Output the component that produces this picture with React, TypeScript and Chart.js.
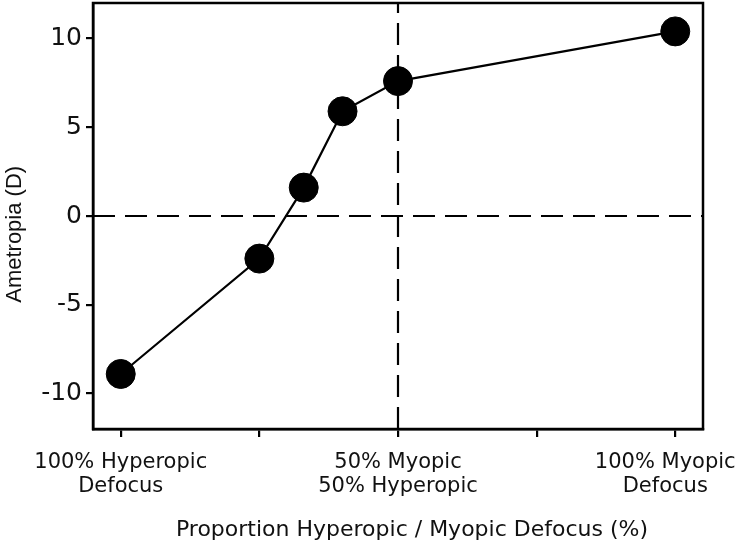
import React, { useEffect, useRef } from "react";
import { Chart, registerables } from "chart.js";

Chart.register(...registerables);

// ---- data ----
const proportionMyopic = [0, 25, 33, 40, 50, 100];
const ametropia = [-8.9, -2.4, 1.6, 5.9, 7.6, 10.4];

const xTickValues = [0, 25, 50, 75, 100];
const xTickLabels: (string | string[])[] = [
  ["100% Hyperopic", "Defocus"],
  "",
  ["50% Myopic", "50% Hyperopic"],
  "",
  ["100% Myopic   ", "Defocus   "],
];
const yTickValues = [-10, -5, 0, 5, 10];
const xRange = [-5, 105];
const yRange = [-12, 12];
const zeroLevel = 0;
const halfSplit = 50;

const xTitle = "    Proportion Hyperopic / Myopic Defocus (%)";
const yTitle = "Ametropia (D)      ";

const framePlugin = {
  id: "frame",
  afterDraw(chart: any) {
    const { ctx, chartArea } = chart;
    ctx.save();
    ctx.strokeStyle = "#000";
    ctx.lineWidth = 2.5;
    ctx.strokeRect(
      chartArea.left,
      chartArea.top,
      chartArea.right - chartArea.left,
      chartArea.bottom - chartArea.top
    );
    ctx.restore();
  },
};

export default function App() {
  const canvasRef = useRef<HTMLCanvasElement | null>(null);

  useEffect(() => {
    document.body.style.margin = "0";
    const canvas = canvasRef.current;
    if (!canvas) return;

    const mainPoints = proportionMyopic.map((x, i) => ({ x, y: ametropia[i] }));
    const zeroLine = [
      { x: xRange[0], y: zeroLevel },
      { x: xRange[1], y: zeroLevel },
    ];
    const splitLine = [
      { x: halfSplit, y: yRange[0] },
      { x: halfSplit, y: yRange[1] },
    ];

    const chart = new Chart(canvas, {
      type: "line",
      data: {
        datasets: [
          {
            data: mainPoints,
            borderColor: "#000",
            backgroundColor: "#000",
            borderWidth: 2.2,
            pointRadius: 14.5,
            pointBorderWidth: 1,
            pointBackgroundColor: "#000",
            pointBorderColor: "#000",
            tension: 0,
          },
          {
            data: zeroLine,
            borderColor: "#000",
            borderWidth: 2.2,
            borderDash: [22, 10],
            pointRadius: 0,
          },
          {
            data: splitLine,
            borderColor: "#000",
            borderWidth: 2.2,
            borderDash: [22, 10],
            pointRadius: 0,
          },
        ],
      },
      options: {
        responsive: false,
        animation: false,
        layout: { autoPadding: false, padding: { top: 3, right: 36, left: 0, bottom: 0 } },
        plugins: {
          legend: { display: false },
          tooltip: { enabled: false },
        },
        scales: {
          x: {
            type: "linear",
            min: xRange[0],
            max: xRange[1],
            afterBuildTicks(scale: any) {
              scale.ticks = xTickValues.map((v) => ({ value: v }));
            },
            afterFit(scale: any) {
              scale.height = 120;
              scale.paddingLeft = 0;
              scale.paddingRight = 0;
            },
            grid: {
              drawOnChartArea: false,
              drawTicks: true,
              tickLength: 8,
              color: "#000",
              lineWidth: 2.2,
            },
            border: { display: true, color: "#000", width: 2.5 },
            ticks: {
              color: "#111",
              font: { family: "DejaVu Sans", size: 21, lineHeight: 24 / 21 },
              padding: 14,
              maxRotation: 0,
              autoSkip: false,
              callback: (value: any) => {
                const i = xTickValues.indexOf(Number(value));
                return i >= 0 ? xTickLabels[i] : "";
              },
            },
            title: {
              display: true,
              text: xTitle,
              color: "#111",
              font: { family: "DejaVu Sans", size: 22 },
              padding: { top: 0, bottom: 6 },
            },
          },
          y: {
            type: "linear",
            min: yRange[0],
            max: yRange[1],
            afterBuildTicks(scale: any) {
              scale.ticks = yTickValues.map((v) => ({ value: v }));
            },
            afterFit(scale: any) {
              scale.width = 93;
              scale.paddingTop = 0;
              scale.paddingBottom = 0;
            },
            grid: {
              drawOnChartArea: false,
              drawTicks: true,
              tickLength: 7,
              color: "#000",
              lineWidth: 2.2,
            },
            border: { display: true, color: "#000", width: 2.5 },
            ticks: {
              color: "#111",
              font: { family: "DejaVu Sans", size: 25 },
              padding: 4,
              callback: (value: any) => String(value),
            },
            title: {
              display: true,
              text: yTitle,
              color: "#111",
              font: { family: "Liberation Sans", size: 22 },
              padding: { top: 2, bottom: 0 },
            },
          },
        },
      },
      plugins: [framePlugin],
    });

    return () => chart.destroy();
  }, []);

  return (
    <div style={{ width: 739, height: 549 }}>
      <canvas ref={canvasRef} width={739} height={549} />
    </div>
  );
}
